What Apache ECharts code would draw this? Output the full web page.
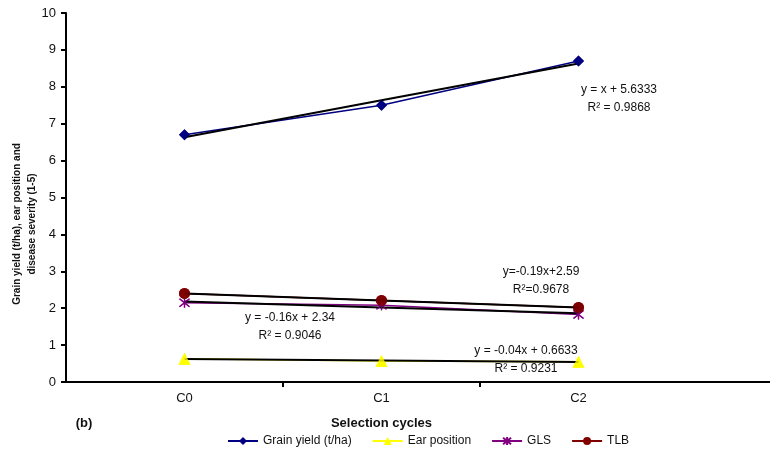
<!DOCTYPE html>
<html>
<head>
<meta charset="utf-8">
<script src="https://cdn.jsdelivr.net/npm/echarts@6/dist/echarts.min.js"></script>
<style>html,body{margin:0;padding:0;background:#fff}#c{width:770px;height:450px}</style>
</head>
<body>
<div id="c"></div>
<script>
const categories = ['C0', 'C1', 'C2'];
const yTicks = [0, 1, 2, 3, 4, 5, 6, 7, 8, 9, 10];
const grainYield = [6.7, 7.5, 8.7];
const earPosition = [0.63, 0.57, 0.55];
const gls = [2.15, 2.08, 1.83];
const tlb = [2.40, 2.21, 2.02];
const trendGrain = [6.6333, 7.6333, 8.6333];
const trendEar = [0.6233, 0.5833, 0.5433];
const trendGls = [2.18, 2.02, 1.86];
const trendTlb = [2.40, 2.21, 2.02];
const seriesNames = ['Grain yield (t/ha)', 'Ear position', 'GLS', 'TLB'];
const equations = [
  ['y = x + 5.6333', 'R² = 0.9868'],
  ['y=-0.19x+2.59', 'R²=0.9678'],
  ['y = -0.16x + 2.34', 'R² = 0.9046'],
  ['y = -0.04x + 0.6633', 'R² = 0.9231']
];

const FONT = 'Liberation Sans, Arial, sans-serif';
const chart = echarts.init(document.getElementById('c'));
const asterisk = 'path://M0,-10L0,10M-9,-8L9,8M-9,8L9,-8';

const styles = [
  { color: '#000080', symbol: 'diamond', size: 11 },
  { color: '#FFFF00', symbol: 'triangle', size: 12 },
  { color: '#800080', symbol: asterisk, size: 10, hollow: true },
  { color: '#800000', symbol: 'circle', size: 11 }
];
const values = [grainYield, earPosition, gls, tlb];
const trends = [trendGrain, trendEar, trendGls, trendTlb];

function itemStyleOf(s) {
  return s.hollow
    ? { color: 'rgba(0,0,0,0)', borderColor: s.color, borderWidth: 1.3 }
    : { color: s.color };
}

const series = [];
values.forEach((v, i) => {
  const s = styles[i];
  series.push({
    name: seriesNames[i], type: 'line', data: v, symbol: s.symbol, symbolSize: s.size,
    z: 3, lineStyle: { color: s.color, width: 1.5 }, itemStyle: itemStyleOf(s), animation: false
  });
});
trends.forEach(t => {
  series.push({
    type: 'line', data: t, symbol: 'none', z: 4, silent: true, animation: false,
    lineStyle: { color: '#000', width: 2 }
  });
});
values.forEach((v, i) => {
  const s = styles[i];
  series.push({
    type: 'scatter', data: v, symbol: s.symbol, symbolSize: s.size, z: 6, silent: true,
    itemStyle: itemStyleOf(s), animation: false
  });
});

function eqText(lines, x, y) {
  return lines.map((t, i) => ({
    type: 'text', x: x, y: y + i * 18,
    style: { text: t, fill: '#111', font: '12px ' + FONT, align: 'center', verticalAlign: 'middle' }
  }));
}

chart.setOption({
  backgroundColor: '#fff',
  animation: false,
  grid: [
    { left: 86, right: 93, top: 13, bottom: 68 },
    { left: 66, right: 0, top: 13, bottom: 68 }
  ],
  xAxis: [
    {
      gridIndex: 0, type: 'category', data: categories, boundaryGap: true,
      axisLine: { show: false },
      axisTick: { show: false },
      axisLabel: { color: '#111', fontSize: 13, fontFamily: FONT, margin: 10, interval: 0 },
      name: 'Selection cycles', nameLocation: 'middle', nameGap: 35,
      nameTextStyle: { color: '#111', fontSize: 13, fontWeight: 'bold', fontFamily: FONT },
      splitLine: { show: false }
    },
    {
      gridIndex: 1, type: 'value', min: -0.6, max: 2.975,
      axisLine: { show: true, lineStyle: { color: '#000', width: 2 } },
      axisTick: { show: true, length: 5, customValues: [0.5, 1.5], lineStyle: { color: '#000', width: 2 } },
      axisLabel: { show: false }, splitLine: { show: false }
    }
  ],
  yAxis: [
    {
      gridIndex: 0, type: 'value', min: yTicks[0], max: yTicks[yTicks.length - 1], interval: 1,
      offset: 20,
      axisLine: { show: true, lineStyle: { color: '#000', width: 2 } },
      axisTick: { show: true, length: 5, lineStyle: { color: '#000', width: 2 } },
      axisLabel: { color: '#111', fontSize: 13, fontFamily: FONT, margin: 10 },
      splitLine: { show: false }
    },
    { gridIndex: 1, type: 'value', show: false }
  ],
  legend: {
    bottom: -2, left: 222, itemWidth: 30, itemHeight: 10, itemGap: 20,
    data: seriesNames,
    textStyle: { color: '#111', fontSize: 12, fontFamily: FONT }
  },
  series: series,
  graphic: [
    {
      type: 'text', x: 17, y: 224, rotation: Math.PI / 2,
      style: { text: 'Grain yield (t/ha), ear position and', fill: '#111',
               font: 'bold 10px ' + FONT, align: 'center', verticalAlign: 'middle' }
    },
    {
      type: 'text', x: 32, y: 224, rotation: Math.PI / 2,
      style: { text: 'disease severity (1-5)', fill: '#111',
               font: 'bold 10px ' + FONT, align: 'center', verticalAlign: 'middle' }
    },
    {
      type: 'text', x: 84, y: 423,
      style: { text: '(b)', fill: '#111', font: 'bold 13px ' + FONT, align: 'center', verticalAlign: 'middle' }
    }
  ].concat(eqText(equations[0], 619, 90))
   .concat(eqText(equations[1], 541, 272))
   .concat(eqText(equations[2], 290, 318))
   .concat(eqText(equations[3], 526, 351))
});
</script>
</body>
</html>
